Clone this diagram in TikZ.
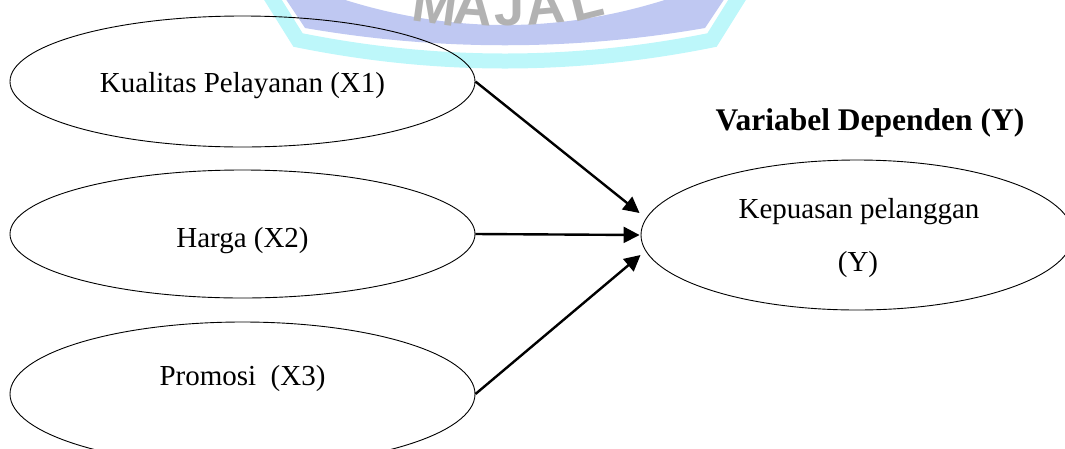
\documentclass[tikz,border=0pt]{standalone}
\usepackage{fontspec}
\setmainfont{Liberation Serif}
\newfontfamily\wmfont{Liberation Sans}
\usetikzlibrary{shapes.geometric,arrows.meta}

\definecolor{wmcyan}{HTML}{BDF7FA}
\definecolor{wmlav}{HTML}{BFC8F2}
\definecolor{wmgray}{HTML}{B2B2B2}

\begin{document}
\begin{tikzpicture}[x=1pt,y=-1pt,
  varnode/.style={ellipse, draw, line width=0.9pt, inner sep=0pt},
  vartext/.style={anchor=base, inner sep=0pt, font=\fontsize{29}{34}\selectfont},
  link/.style={line width=2.4pt, -{Triangle[length=16pt,width=16pt]}},
  wmletter/.style={anchor=base, inner sep=0pt, text=wmgray,
    font=\wmfont\bfseries\fontsize{54}{54}\selectfont}]
\useasboundingbox (0,0) rectangle (1065,448);
\clip (0,0) rectangle (1065,448);

% faint seal behind the diagram
\fill[wmlav] (283,-5) -- (305,28) .. controls (438,51) and (572,51) .. (705,28)
  -- (727,-5) -- (680,-5) .. controls (563,35) and (447,35) .. (330,-5) -- cycle;
\draw[wmcyan, line width=15pt, line join=miter]
  (268,-8) -- (298,40) .. controls (436,68) and (574,68) .. (712,40) -- (742,-8);
\node[wmletter, rotate=-8] (wm1) at (433,24) {M};
\node[wmletter, rotate=-4] (wm2) at (472,25) {A};
\node[wmletter] (wm3) at (510,25) {J};
\node[wmletter, rotate=5] (wm4) at (547,24) {A};
\node[wmletter, rotate=14] (wm5) at (590,19) {L};

% independent variables
\node[varnode, minimum width=465pt, minimum height=131pt] (X1) at (242.5,81.5) {};
\node[vartext] (t1) at (242.5,92.5) {Kualitas Pelayanan (X1)};
\node[varnode, minimum width=465pt, minimum height=128pt] (X2) at (242.5,234) {};
\node[vartext] (t2) at (242.5,247.5) {Harga (X2)};
\node[varnode, minimum width=465pt, minimum height=144pt] (X3) at (242.5,394) {};
\node[vartext] (t3) at (242.5,385) {Promosi\ \ (X3)};

% dependent variable
\node[anchor=base, inner sep=0pt, font=\bfseries\fontsize{31.5}{36}\selectfont] (title)
  at (870,130.5) {Variabel Dependen (Y)};
\node[varnode, minimum width=432pt, minimum height=150pt] (Y) at (857,235) {};
\node[vartext] (t4) at (859,218.5) {Kepuasan pelanggan};
\node[vartext] (t5) at (858,271.5) {(Y)};

% influences
\draw[link] (X1.east) -- ([xshift=-1pt,yshift=22pt]Y.west);
\draw[link] (X2.east) -- ([xshift=-1pt]Y.west);
\draw[link] (X3.east) -- ([yshift=-20pt]Y.west);
\end{tikzpicture}
\end{document}
